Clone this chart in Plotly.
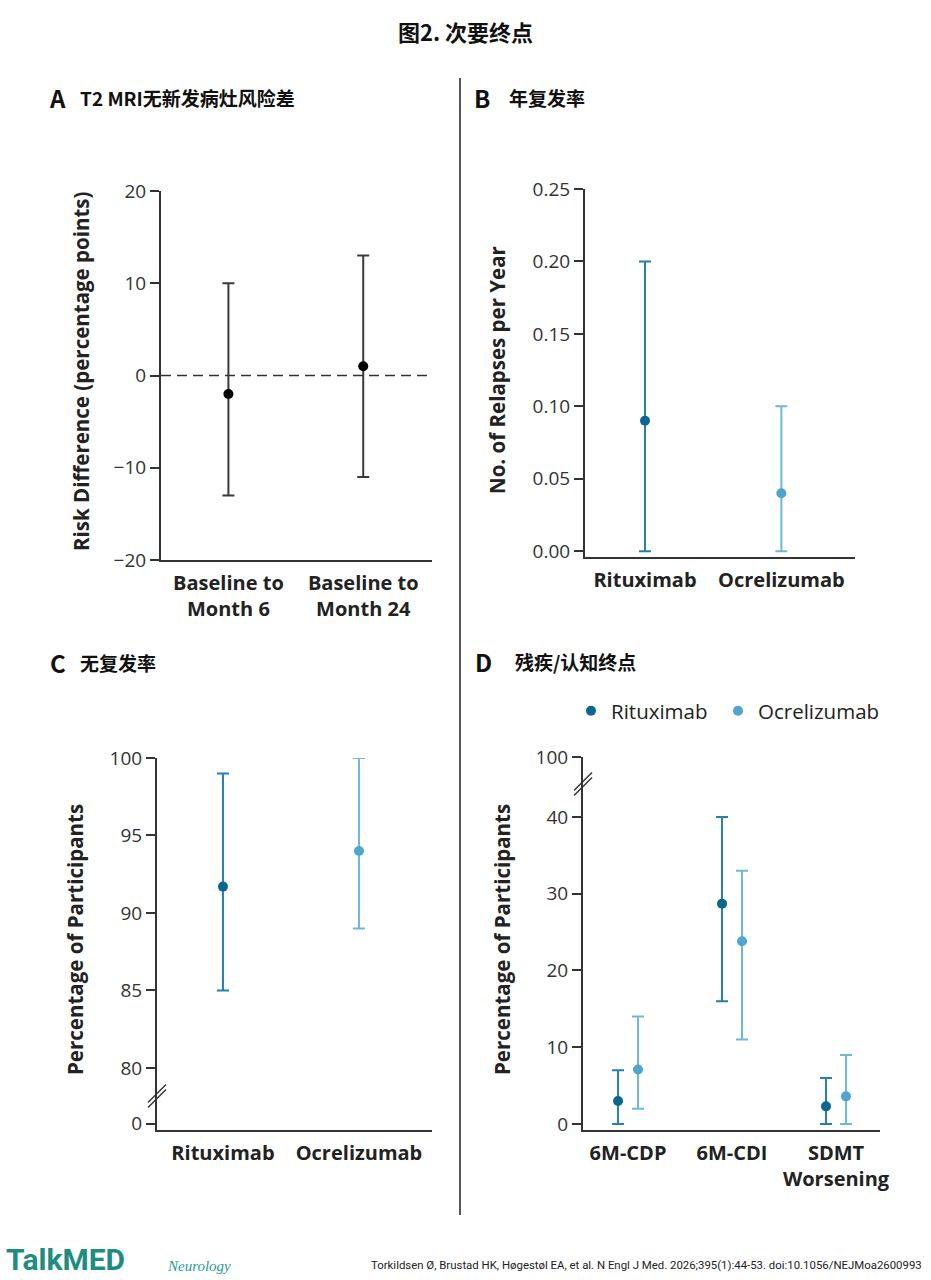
import plotly.graph_objects as go

W, H = 931, 1280

# ---- data ----
a_periods = ["Baseline to<br>Month 6", "Baseline to<br>Month 24"]
a_diff = [-2, 1]
a_lo = [-13, -11]
a_hi = [10, 13]
a_yticks = [-20, -10, 0, 10, 20]

drugs = ["Rituximab", "Ocrelizumab"]
b_rate = [0.09, 0.04]
b_lo = [0.00, 0.00]
b_hi = [0.20, 0.10]
b_yticks = [0.00, 0.05, 0.10, 0.15, 0.20, 0.25]

c_pct = [91.7, 94.0]
c_lo = [85, 89]
c_hi = [99, 100]
c_yticks = [80, 85, 90, 95, 100]

d_endpoints = ["6M-CDP", "6M-CDI", "SDMT<br>Worsening"]
d_ritux = [3.0, 28.7, 2.3]
d_ritux_lo = [0, 16, 0]
d_ritux_hi = [7, 40, 6]
d_ocre = [7.1, 23.8, 3.6]
d_ocre_lo = [2, 11, 0]
d_ocre_hi = [14, 33, 9]
d_yticks = [0, 10, 20, 30, 40]

# broken axes: where the off-scale tick sits on the linear scale
C_ZERO_POS = 76.4    # "0" drawn below the break in panel C
D_TOP_POS = 47.8     # "100" drawn above the break in panel D
D_SHIFT = 0.096      # side-by-side offset of the two drugs in panel D

RITUX_DOT, RITUX_BAR = "#0b6791", "#2580ab"
OCRE_DOT, OCRE_BAR = "#4ea5cd", "#70b8da"
AXIS_C = "#333333"
FONT = "Open Sans, Noto Sans CJK SC, sans-serif"
CJK = "Noto Sans CJK SC, sans-serif"
NARROW = "Roboto, sans-serif"


def fx(p):
    return p / W


def fy(p):
    return 1 - p / H


def err(v, lo, hi, color):
    return dict(type="data", symmetric=False,
                array=[h - x for x, h in zip(v, hi)],
                arrayminus=[x - l for x, l in zip(v, lo)],
                color=color, thickness=2, width=6)


def yax(**kw):
    d = dict(showline=True, linecolor=AXIS_C, linewidth=2, showgrid=False,
             zeroline=False, ticks="outside", tickcolor=AXIS_C, tickwidth=1.5,
             ticklen=9, tickfont=dict(size=19, color="#333"), automargin=False,
             fixedrange=True)
    d.update(kw)
    return d


def xax(**kw):
    d = dict(showline=True, linecolor=AXIS_C, linewidth=2, showgrid=False,
             zeroline=False, ticks="outside", tickcolor="rgba(0,0,0,0)",
             ticklen=4, tickfont=dict(size=20, color="#222", weight="bold"),
             automargin=False, fixedrange=True)
    d.update(kw)
    return d


def leg(left_px):
    return dict(orientation="h", x=fx(left_px), y=fy(711), xanchor="left", yanchor="middle",
                font=dict(size=20.5, color="#222"), bgcolor="rgba(0,0,0,0)")


fig = go.Figure()

# A: risk difference
fig.add_trace(go.Scatter(
    x=list(range(len(a_diff))), y=a_diff, mode="markers",
    marker=dict(size=10, color="black"),
    error_y=err(a_diff, a_lo, a_hi, "#3a3a3a"),
    xaxis="x", yaxis="y", showlegend=False))

# B: annualised relapse rate
for i, (col_dot, col_bar) in enumerate([(RITUX_DOT, RITUX_BAR), (OCRE_DOT, OCRE_BAR)]):
    fig.add_trace(go.Scatter(
        x=[i], y=[b_rate[i]], mode="markers",
        marker=dict(size=10, color=col_dot),
        error_y=err([b_rate[i]], [b_lo[i]], [b_hi[i]], col_bar),
        xaxis="x2", yaxis="y2", showlegend=False))

# C: relapse-free
for i, (col_dot, col_bar) in enumerate([(RITUX_DOT, RITUX_BAR), (OCRE_DOT, OCRE_BAR)]):
    fig.add_trace(go.Scatter(
        x=[i], y=[c_pct[i]], mode="markers",
        marker=dict(size=10, color=col_dot),
        error_y=err([c_pct[i]], [c_lo[i]], [c_hi[i]], col_bar),
        xaxis="x3", yaxis="y3", showlegend=False))

# D: disability / cognition
idx = list(range(len(d_endpoints)))
fig.add_trace(go.Scatter(
    x=[k - D_SHIFT for k in idx], y=d_ritux, mode="markers", name=drugs[0],
    marker=dict(size=10, color=RITUX_DOT),
    error_y=err(d_ritux, d_ritux_lo, d_ritux_hi, RITUX_BAR),
    xaxis="x4", yaxis="y4", legend="legend"))
fig.add_trace(go.Scatter(
    x=[k + D_SHIFT for k in idx], y=d_ocre, mode="markers", name=drugs[1],
    marker=dict(size=10, color=OCRE_DOT),
    error_y=err(d_ocre, d_ocre_lo, d_ocre_hi, OCRE_BAR),
    xaxis="x4", yaxis="y4", legend="legend2"))

shapes = [
    # dashed zero line in A
    dict(type="line", xref="x domain", yref="y", x0=0, x1=1, y0=0, y1=0,
         line=dict(color="#333", width=1.5, dash="10px,6px")),
    # vertical divider
    dict(type="line", xref="paper", yref="paper", x0=fx(460), x1=fx(460),
         y0=fy(78), y1=fy(1215), line=dict(color="#555", width=2)),
]
# axis-break marks
for cx, cy in [(157, 1096), (583, 784)]:
    for off in (-2.5, 2.5):
        shapes.append(dict(type="line", xref="paper", yref="paper",
                           x0=fx(cx - 9), y0=fy(cy + 9 + off),
                           x1=fx(cx + 9), y1=fy(cy - 9 + off),
                           line=dict(color=AXIS_C, width=1.5)))

annotations = [
    dict(text="<b>图2. 次要终点</b>", x=0.5, y=fy(31), xanchor="center",
         font=dict(size=22, family=CJK, color="#111")),
    dict(text="<b>A</b>", x=fx(47), y=fy(97), font=dict(size=24, family=CJK, color="#111")),
    dict(text="<b>T2 MRI无新发病灶风险差</b>", x=fx(78), y=fy(97),
         font=dict(size=19, family=CJK, color="#111")),
    dict(text="<b>B</b>", x=fx(472), y=fy(97), font=dict(size=24, family=CJK, color="#111")),
    dict(text="<b>年复发率</b>", x=fx(507), y=fy(97),
         font=dict(size=19, family=CJK, color="#111")),
    dict(text="<b>C</b>", x=fx(48), y=fy(662), font=dict(size=24, family=CJK, color="#111")),
    dict(text="<b>无复发率</b>", x=fx(78), y=fy(662),
         font=dict(size=19, family=CJK, color="#111")),
    dict(text="<b>D</b>", x=fx(473), y=fy(661), font=dict(size=24, family=CJK, color="#111")),
    dict(text="<b>残疾/认知终点</b>", x=fx(513), y=fy(661),
         font=dict(size=19, family=CJK, color="#111")),
    # y titles
    dict(text="<b>Risk Difference (percentage points)</b>", x=fx(81), y=fy(371),
         xanchor="center", textangle=-90, font=dict(size=20.5, color="#222")),
    dict(text="<b>No. of Relapses per Year</b>", x=fx(497), y=fy(370),
         xanchor="center", textangle=-90, font=dict(size=20.5, color="#222")),
    dict(text="<b>Percentage of Participants</b>", x=fx(75), y=fy(940),
         xanchor="center", textangle=-90, font=dict(size=20.5, color="#222")),
    dict(text="<b>Percentage of Participants</b>", x=fx(502), y=fy(940),
         xanchor="center", textangle=-90, font=dict(size=20.5, color="#222")),
    # footer
    dict(text="<b>TalkMED</b>", x=fx(4), y=fy(1259),
         font=dict(size=30, color="#1f8c82", family=NARROW)),
    dict(text="<i>Neurology</i>", x=fx(165), y=fy(1266),
         font=dict(size=15, color="#2a9a90", family="Liberation Serif, serif")),
    dict(text="Torkildsen Ø, Brustad HK, Høgestøl EA, et al. N Engl J Med. 2026;395(1):44-53. doi:10.1056/NEJMoa2600993",
         x=fx(924), y=fy(1265), xanchor="right",
         font=dict(size=11.4, color="#222", family=NARROW)),
]
for a in annotations:
    a.setdefault("xref", "paper")
    a.setdefault("yref", "paper")
    a.setdefault("showarrow", False)
    a.setdefault("xanchor", "left")
    a.setdefault("yanchor", "middle")

fig.update_layout(
    width=W, height=H, margin=dict(l=0, r=0, t=0, b=0),
    paper_bgcolor="white", plot_bgcolor="white",
    font=dict(family=FONT, color="#222"),
    xaxis=xax(domain=[fx(161), fx(432)], anchor="y", range=[-0.5, 1.51],
              tickvals=list(range(len(a_periods))), ticktext=a_periods),
    yaxis=yax(domain=[fy(560), fy(191)], anchor="x", range=[-20, 20],
              tickvals=a_yticks, ticktext=[str(t).replace("-", "−") for t in a_yticks]),
    xaxis2=xax(domain=[fx(585), fx(855)], anchor="y2", range=[-0.44, 1.54],
               tickvals=[0, 1], ticktext=drugs),
    yaxis2=yax(domain=[fy(557), fy(189)], anchor="x2", range=[-0.004, 0.25],
               tickvals=b_yticks, ticktext=[f"{t:.2f}" for t in b_yticks]),
    xaxis3=xax(domain=[fx(157), fx(432)], anchor="y3", range=[-0.485, 1.537],
               tickvals=[0, 1], ticktext=drugs),
    yaxis3=yax(domain=[fy(1130), fy(758)], anchor="x3", range=[75.99, 100],
               tickvals=[C_ZERO_POS] + c_yticks, ticktext=["0"] + [str(t) for t in c_yticks]),
    xaxis4=xax(domain=[fx(583), fx(880)], anchor="y4", range=[-0.433, 2.423],
               tickvals=idx, ticktext=d_endpoints),
    yaxis4=yax(domain=[fy(1130), fy(757)], anchor="x4", range=[-0.78, D_TOP_POS],
               tickvals=d_yticks + [D_TOP_POS], ticktext=[str(t) for t in d_yticks] + ["100"]),
    legend=leg(571),
    legend2=leg(718),
    shapes=shapes, annotations=annotations,
)

fig.write_html("out.html", config={"displayModeBar": False},
               post_script="document.body.style.margin='0';")
